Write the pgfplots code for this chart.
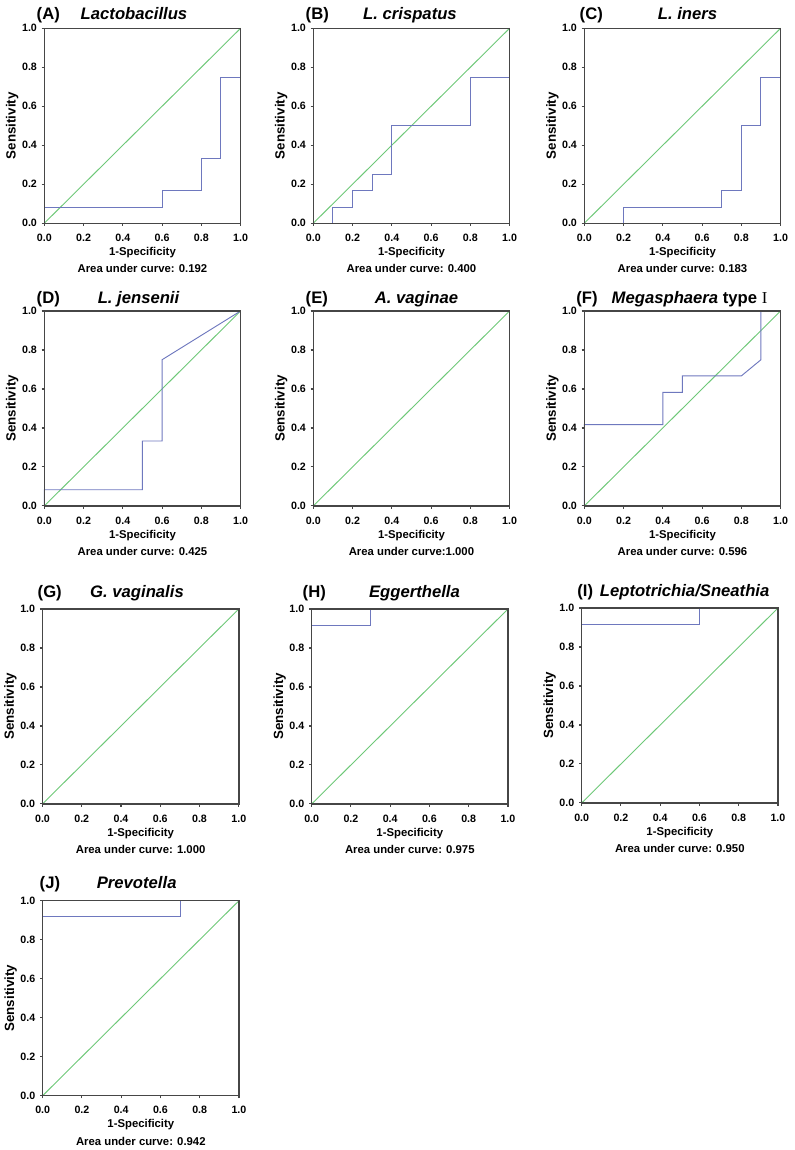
\documentclass[border=0pt]{standalone}
\usepackage{pgfplots}
\pgfplotsset{compat=1.18}
\usepackage{fontspec}
\setmainfont{Liberation Sans}
\newfontfamily\serifI{Liberation Serif}
\definecolor{rocblue}{RGB}{110,120,190}
\definecolor{rocgreen}{RGB}{110,200,120}
\definecolor{framegray}{RGB}{70,70,70}
\newcommand{\tl}{\fontsize{8}{9}\selectfont\bfseries}
\newcommand{\lb}{\fontsize{8.5}{10}\selectfont\bfseries}
\newcommand{\yl}{\fontsize{10}{12}\selectfont\bfseries}
\newcommand{\ttl}{\fontsize{12.5}{14}\selectfont\bfseries}
\pgfplotsset{
  roc/.style={
    scale only axis, width=147.2pt, height=146.2pt,
    anchor=north west, clip=false,
    xmin=0, xmax=1, ymin=0, ymax=1,
    xtick={0,0.2,0.4,0.6,0.8,1}, ytick={0,0.2,0.4,0.6,0.8,1},
    xtick pos=bottom, ytick pos=left,
    tick align=outside, major tick length=2pt,
    axis on top=true,
    axis line style={draw=framegray, line width=1.1pt},
    tick style={draw=framegray, line width=0.8pt},
    /pgf/number format/.cd, fixed, fixed zerofill, precision=1, assume math mode=true,
    /pgfplots/.cd,
    ticklabel style={font=\tl},
    xticklabel style={yshift=-2.5pt},
    xlabel={1-Specificity},
    ylabel={Sensitivity},
    xlabel style={font=\lb, at={(axis description cs:0.5,0)}, anchor=center, yshift=-22pt},
    ylabel style={font=\yl, at={(axis description cs:0,0.5)}, anchor=center, yshift=24pt},
  },
  diag/.style={rocgreen, line width=0.7pt},
  curve/.style={rocblue, line width=0.7pt},
}
\newcommand{\auc}[1]{\node[font=\lb, anchor=center] at (axis description cs:0.5,0) [yshift=-34pt] {#1};}
\begin{document}
\begin{tikzpicture}
\useasboundingbox (0,0) rectangle (595.5pt,-862.5pt);
% ---------- Row 1 ----------
\begin{axis}[roc, at={({44.3*0.75pt},{-28.3*0.75pt})}]
\addplot[diag] coordinates {(0,0) (1,1)};
\addplot[curve] coordinates {(0,0) (0,0.083) (0.6,0.083) (0.6,0.167) (0.8,0.167) (0.8,0.333) (0.9,0.333) (0.9,0.75) (1,0.75)};
\auc{Area under curve: 0.192}
\end{axis}
\node[font=\ttl, anchor=base west] at ({32*0.75pt},{-19*0.75pt}) {(A)};
\node[font=\ttl\itshape, anchor=base] at ({134*0.75pt},{-19*0.75pt}) {Lactobacillus};

\begin{axis}[roc, at={({313.3*0.75pt},{-28.3*0.75pt})}]
\addplot[diag] coordinates {(0,0) (1,1)};
\addplot[curve] coordinates {(0.1,0) (0.1,0.083) (0.2,0.083) (0.2,0.167) (0.3,0.167) (0.3,0.25) (0.4,0.25) (0.4,0.5) (0.8,0.5) (0.8,0.75) (1,0.75)};
\auc{Area under curve: 0.400}
\end{axis}
\node[font=\ttl, anchor=base west] at ({301*0.75pt},{-19*0.75pt}) {(B)};
\node[font=\ttl\itshape, anchor=base] at ({410*0.75pt},{-19*0.75pt}) {L. crispatus};

\begin{axis}[roc, at={({584.3*0.75pt},{-28.3*0.75pt})}]
\addplot[diag] coordinates {(0,0) (1,1)};
\addplot[curve] coordinates {(0.2,0) (0.2,0.083) (0.7,0.083) (0.7,0.167) (0.8,0.167) (0.8,0.5) (0.9,0.5) (0.9,0.75) (1,0.75)};
\auc{Area under curve: 0.183}
\end{axis}
\node[font=\ttl, anchor=base west] at ({575*0.75pt},{-19*0.75pt}) {(C)};
\node[font=\ttl\itshape, anchor=base] at ({687.5*0.75pt},{-19*0.75pt}) {L. iners};

% ---------- Row 2 ----------
\begin{axis}[roc, at={({44.3*0.75pt},{-311*0.75pt})}]
\addplot[diag] coordinates {(0,0) (1,1)};
\addplot[curve] coordinates {(0,0) (0,0.083) (0.5,0.083) (0.5,0.333) (0.6,0.333) (0.6,0.75) (1,1)};
\auc{Area under curve: 0.425}
\end{axis}
\node[font=\ttl, anchor=base west] at ({32*0.75pt},{-303.5*0.75pt}) {(D)};
\node[font=\ttl\itshape, anchor=base] at ({138.5*0.75pt},{-303.5*0.75pt}) {L. jensenii};

\begin{axis}[roc, at={({313.3*0.75pt},{-311*0.75pt})}]
\addplot[diag] coordinates {(0,0) (1,1)};
\addplot[curve] coordinates {(0,0) (0,1) (1,1)};
\auc{Area under curve:1.000}
\end{axis}
\node[font=\ttl, anchor=base west] at ({301*0.75pt},{-303.5*0.75pt}) {(E)};
\node[font=\ttl\itshape, anchor=base] at ({416.5*0.75pt},{-303.5*0.75pt}) {A. vaginae};

\begin{axis}[roc, at={({584.3*0.75pt},{-311*0.75pt})}]
\addplot[diag] coordinates {(0,0) (1,1)};
\addplot[curve] coordinates {(0,0) (0,0.417) (0.4,0.417) (0.4,0.583) (0.5,0.583) (0.5,0.667) (0.8,0.667) (0.9,0.75) (0.9,1)};
\auc{Area under curve: 0.596}
\end{axis}
\node[font=\ttl, anchor=base west] at ({571.7*0.75pt},{-303.5*0.75pt}) {(F)};
\node[font=\ttl, anchor=base] at ({689.5*0.75pt},{-303.5*0.75pt}) {\itshape Megasphaera\/ \upshape type {\serifI\mdseries I}};

% ---------- Row 3 ----------
\begin{axis}[roc, at={({42.5*0.75pt},{-609*0.75pt})}]
\addplot[diag] coordinates {(0,0) (1,1)};
\addplot[curve] coordinates {(0,0) (0,1) (1,1)};
\auc{Area under curve: 1.000}
\end{axis}
\node[font=\ttl, anchor=base west] at ({33*0.75pt},{-597*0.75pt}) {(G)};
\node[font=\ttl\itshape, anchor=base] at ({137*0.75pt},{-597*0.75pt}) {G. vaginalis};

\begin{axis}[roc, at={({311.7*0.75pt},{-609*0.75pt})}]
\addplot[diag] coordinates {(0,0) (1,1)};
\addplot[curve] coordinates {(0,0) (0,0.917) (0.3,0.917) (0.3,1) (1,1)};
\auc{Area under curve: 0.975}
\end{axis}
\node[font=\ttl, anchor=base west] at ({298*0.75pt},{-597*0.75pt}) {(H)};
\node[font=\ttl\itshape, anchor=base] at ({414.5*0.75pt},{-597*0.75pt}) {Eggerthella};

\begin{axis}[roc, at={({581.7*0.75pt},{-608*0.75pt})}]
\addplot[diag] coordinates {(0,0) (1,1)};
\addplot[curve] coordinates {(0,0) (0,0.917) (0.6,0.917) (0.6,1) (1,1)};
\auc{Area under curve: 0.950}
\end{axis}
\node[font=\ttl, anchor=base west] at ({572.7*0.75pt},{-596*0.75pt}) {(I)};
\node[font=\ttl\itshape, anchor=base] at ({684.6*0.75pt},{-596*0.75pt}) {Leptotrichia/Sneathia};

% ---------- Row 4 ----------
\begin{axis}[roc, at={({42.7*0.75pt},{-900.7*0.75pt})}]
\addplot[diag] coordinates {(0,0) (1,1)};
\addplot[curve] coordinates {(0,0) (0,0.917) (0.7,0.917) (0.7,1) (1,1)};
\auc{Area under curve: 0.942}
\end{axis}
\node[font=\ttl, anchor=base west] at ({35*0.75pt},{-888.5*0.75pt}) {(J)};
\node[font=\ttl\itshape, anchor=base] at ({136.7*0.75pt},{-888.5*0.75pt}) {Prevotella};
\end{tikzpicture}
\end{document}
